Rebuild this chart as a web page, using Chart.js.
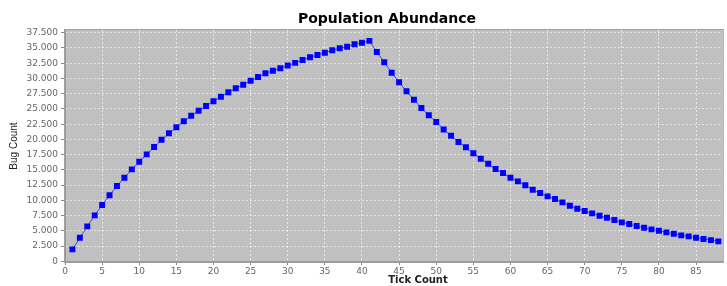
<!DOCTYPE html>
<html>
<head>
    <title>Population Abundance</title>
    <script src="https://cdnjs.cloudflare.com/ajax/libs/Chart.js/4.4.0/chart.umd.min.js"></script>
    <style>
        html, body { margin: 0; padding: 0; background: #ffffff; overflow: hidden; }
        #chart-container { width: 727px; height: 286px; }
    </style>
</head>
<body>
    <div id="chart-container">
        <canvas id="popChart" width="727" height="286"></canvas>
    </div>
    <script>
        const chartTitle = 'Population Abundance';
        const xTitle = 'Tick Count';
        const yTitle = 'Bug Count';

        // tick number of each sample
        const tickCounts = [
            1, 2, 3, 4, 5, 6, 7, 8, 9, 10, 11, 12, 13, 14, 15, 16, 17, 18, 19, 20,
            21, 22, 23, 24, 25, 26, 27, 28, 29, 30, 31, 32, 33, 34, 35, 36, 37, 38, 39, 40,
            41, 42, 43, 44, 45, 46, 47, 48, 49, 50, 51, 52, 53, 54, 55, 56, 57, 58, 59, 60,
            61, 62, 63, 64, 65, 66, 67, 68, 69, 70, 71, 72, 73, 74, 75, 76, 77, 78, 79, 80,
            81, 82, 83, 84, 85, 86, 87, 88
        ];

        // bugs alive at each tick
        const bugCounts = [
            1970, 3870, 5740, 7545, 9236, 10830, 12350, 13715, 15090, 16340,
            17550, 18750, 19930, 21000, 21980, 22970, 23880, 24700, 25480, 26250,
            27000, 27720, 28380, 28970, 29630, 30230, 30840, 31270, 31660, 32120,
            32550, 33020, 33460, 33840, 34220, 34610, 34940, 35200, 35600, 35860,
            36160, 34330, 32640, 30940, 29360, 27890, 26510, 25150, 23950, 22870,
            21620, 20600, 19570, 18700, 17720, 16830, 16010, 15140, 14490, 13710,
            13120, 12470, 11750, 11200, 10660, 10220, 9680, 9120, 8630, 8250,
            7870, 7480, 7150, 6780, 6400, 6120, 5790, 5510, 5250, 5020,
            4760, 4530, 4270, 4100, 3870, 3660, 3490, 3280
        ];

        // axis ticks
        const xTickValues = [0, 5, 10, 15, 20, 25, 30, 35, 40, 45, 50, 55, 60, 65, 70, 75, 80, 85];
        const yTickValues = [0, 2500, 5000, 7500, 10000, 12500, 15000, 17500, 20000,
                             22500, 25000, 27500, 30000, 32500, 35000, 37500];

        const xRange = [0, 88.6];
        const yRange = [-100, 37940];

        function dotted(n) {
            return String(n).replace(/\B(?=(\d{3})+(?!\d))/g, '.');
        }

        // gray plot background + outline, chart title and x title
        const plotFrame = {
            id: 'plotFrame',
            beforeDraw(chart) {
                const { ctx, chartArea: a } = chart;
                ctx.save();
                ctx.fillStyle = '#c0c0c0';
                ctx.fillRect(a.left, a.top, a.right - a.left, a.bottom - a.top);
                ctx.restore();
            },
            afterDraw(chart) {
                const { ctx, chartArea: a } = chart;
                ctx.save();
                ctx.strokeStyle = '#a0a0a0';
                ctx.lineWidth = 1;
                ctx.strokeRect(a.left - 0.5, a.top - 0.5, a.right - a.left + 1, a.bottom - a.top + 1);
                ctx.fillStyle = '#000000';
                ctx.textAlign = 'center';
                ctx.textBaseline = 'alphabetic';
                ctx.font = 'bold 14px "DejaVu Sans"';
                ctx.fillText(chartTitle, 387, 23);
                ctx.fillStyle = '#222222';
                ctx.font = 'bold 10px "DejaVu Sans"';
                ctx.fillText(xTitle, 418, 283);
                ctx.restore();
            }
        };

        const ctx = document.getElementById('popChart').getContext('2d');
        new Chart(ctx, {
            type: 'line',
            data: {
                datasets: [{
                    label: 'Bugs',
                    data: tickCounts.map((t, i) => ({ x: t, y: bugCounts[i] })),
                    borderColor: '#4040ff',
                    borderWidth: 1,
                    backgroundColor: '#0000ff',
                    pointStyle: 'rect',
                    pointRadius: 4.2,
                    pointBorderWidth: 0,
                    pointBackgroundColor: '#0000ff',
                    tension: 0
                }]
            },
            options: {
                responsive: false,
                animation: false,
                maintainAspectRatio: false,
                layout: { padding: { top: 30, left: 0, right: 0, bottom: 0 } },
                plugins: {
                    legend: { display: false },
                    tooltip: { enabled: false }
                },
                scales: {
                    x: {
                        type: 'linear',
                        min: xRange[0],
                        max: xRange[1],
                        afterBuildTicks(scale) { scale.ticks = xTickValues.map(v => ({ value: v })); },
                        afterFit(scale) { scale.height = 24; },
                        ticks: {
                            color: '#666666',
                            font: { family: 'DejaVu Sans', size: 9 },
                            padding: 1,
                            maxRotation: 0,
                            autoSkip: false
                        },
                        grid: {
                            color: 'rgba(255,255,255,0.6)',
                            tickColor: '#888888',
                            tickLength: 3,
                            lineWidth: 1
                        },
                        border: { display: true, color: '#999999', width: 2, dash: [2, 2] }
                    },
                    y: {
                        min: yRange[0],
                        max: yRange[1],
                        afterBuildTicks(scale) { scale.ticks = yTickValues.map(v => ({ value: v })); },
                        afterFit(scale) { scale.width = 65; },
                        ticks: {
                            color: '#666666',
                            font: { family: 'DejaVu Sans', size: 9 },
                            padding: 3,
                            autoSkip: false,
                            callback: (v) => dotted(v)
                        },
                        grid: {
                            color: 'rgba(255,255,255,0.6)',
                            tickColor: '#888888',
                            tickLength: 4,
                            lineWidth: 1
                        },
                        border: { display: true, color: '#999999', width: 2, dash: [2, 2] },
                        title: {
                            display: true,
                            text: yTitle,
                            color: '#222222',
                            font: { family: 'Liberation Sans', size: 10 },
                            padding: { top: 8.5, bottom: 0 }
                        }
                    }
                }
            },
            plugins: [plotFrame]
        });
    </script>
</body>
</html>
